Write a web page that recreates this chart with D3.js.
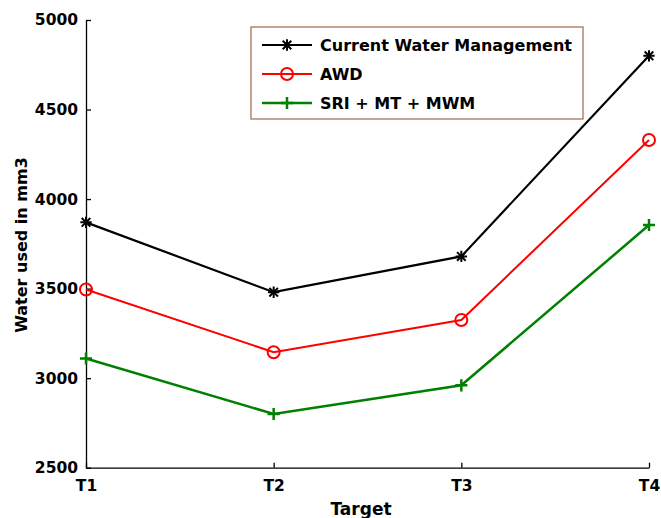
<!DOCTYPE html>
<html>
<head>
<meta charset="utf-8">
<script src="https://cdn.jsdelivr.net/npm/d3@7"></script>
<style>
  body { margin: 0; background: #fff; }
  svg text { font-family: "DejaVu Sans", Verdana, sans-serif; font-weight: bold; }
</style>
</head>
<body>
<div id="chart"></div>
<script>
const SVG_WIDTH = 661;
const SVG_HEIGHT = 518;
const MARGIN = { TOP: 20, RIGHT: 12, BOTTOM: 50, LEFT: 86 };

// data
const targets = ["T1", "T2", "T3", "T4"];
const currentWater = [3870, 3480, 3680, 4800];
const awd = [3495, 3145, 3325, 4330];
const sriMtMwm = [3110, 2800, 2960, 3855];
const yTicks = [2500, 3000, 3500, 4000, 4500, 5000];

const series = [
    { name: "Current Water Management", values: currentWater, color: "#000000", marker: "asterisk", width: 2.2 },
    { name: "AWD", values: awd, color: "#ff0000", marker: "circle", width: 2 },
    { name: "SRI + MT + MWM", values: sriMtMwm, color: "#008000", marker: "plus", width: 2.5 }
];

const svg = d3.select("#chart").append("svg")
    .attr("width", SVG_WIDTH)
    .attr("height", SVG_HEIGHT);

const xScale = d3.scalePoint()
    .domain(targets)
    .range([MARGIN.LEFT, 649]);

const yScale = d3.scaleLinear()
    .domain([2500, 5000])
    .range([467.7, MARGIN.TOP]);

// axes (ticks point inward like matlab)
const xAxis = svg.append("g")
    .attr("transform", `translate(0,${yScale(2500)})`)
    .call(d3.axisBottom(xScale).tickSizeInner(-5).tickSizeOuter(0).tickPadding(12));
const yAxis = svg.append("g")
    .attr("transform", `translate(${xScale("T1")},0)`)
    .call(d3.axisLeft(yScale).tickValues(yTicks).tickFormat(d3.format("d"))
        .tickSizeInner(-5).tickSizeOuter(0).tickPadding(8));

[xAxis, yAxis].forEach(function (g) {
    g.selectAll("text").style("font-size", "15.5px").attr("fill", "#000");
    g.selectAll("path, line").attr("stroke", "#000").attr("stroke-width", 1.3);
});

// axis titles
svg.append("text")
    .attr("x", 361)
    .attr("y", 515)
    .attr("text-anchor", "middle")
    .style("font-size", "17px")
    .text("Target");

svg.append("text")
    .attr("transform", "translate(27,245) rotate(-90)")
    .attr("text-anchor", "middle")
    .style("font-size", "16px")
    .text("Water used in mm3");

// markers
function drawMarker(g, type, color) {
    if (type === "asterisk") {
        g.append("path").attr("d", d3.symbol(d3.symbolPlus, 44)())
            .attr("fill", "none").attr("stroke", color).attr("stroke-width", 2);
        g.append("path").attr("d", d3.symbol(d3.symbolTimes, 50)())
            .attr("fill", "none").attr("stroke", color).attr("stroke-width", 2);
    } else if (type === "circle") {
        g.append("circle").attr("r", 6)
            .attr("fill", "none").attr("stroke", color).attr("stroke-width", 2);
    } else {
        g.append("path").attr("d", d3.symbol(d3.symbolPlus, 50)())
            .attr("fill", "none").attr("stroke", color).attr("stroke-width", 2.5);
    }
}

const line = d3.line()
    .x(function (d, i) { return xScale(targets[i]); })
    .y(function (d) { return yScale(d); });

series.forEach(function (s) {
    svg.append("path")
        .datum(s.values)
        .attr("d", line)
        .attr("fill", "none")
        .attr("stroke", s.color)
        .attr("stroke-width", s.width);

    s.values.forEach(function (v, i) {
        const g = svg.append("g")
            .attr("transform", `translate(${xScale(targets[i])},${yScale(v)})`);
        drawMarker(g, s.marker, s.color);
    });
});

// legend
const legend = svg.append("g");
legend.append("rect")
    .attr("x", 251).attr("y", 27)
    .attr("width", 332).attr("height", 92)
    .attr("fill", "#fff")
    .attr("stroke", "#a67556")
    .attr("stroke-width", 1.3);

series.forEach(function (s, i) {
    const y = 45 + i * 29;
    legend.append("line")
        .attr("x1", 262).attr("x2", 312)
        .attr("y1", y).attr("y2", y)
        .attr("stroke", s.color)
        .attr("stroke-width", s.width);
    const g = legend.append("g").attr("transform", `translate(287,${y})`);
    drawMarker(g, s.marker, s.color);
    legend.append("text")
        .attr("x", 320)
        .attr("y", y)
        .attr("dy", "0.36em")
        .style("font-size", "16px")
        .text(s.name);
});
</script>
</body>
</html>
